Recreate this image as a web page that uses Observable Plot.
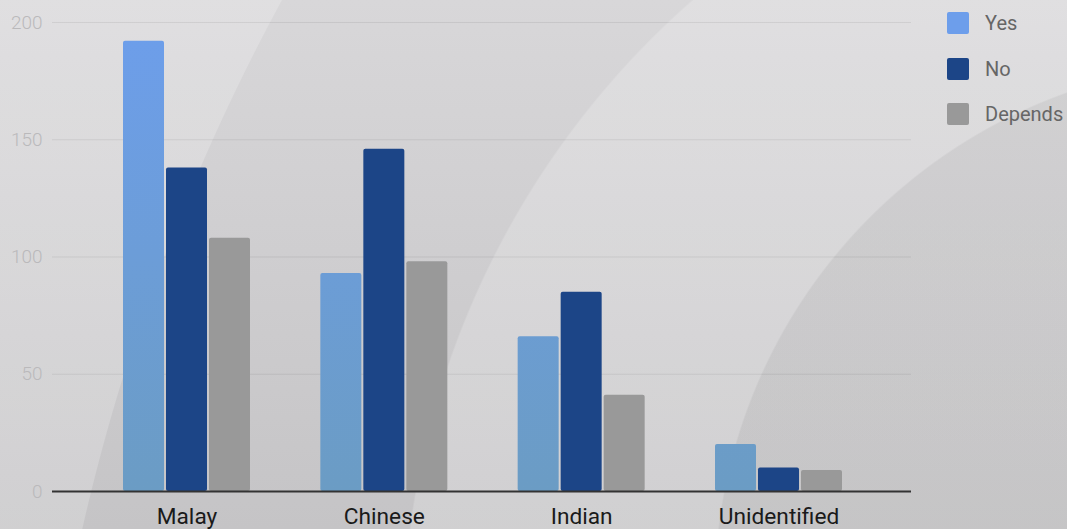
<!DOCTYPE html>
<html>
<head>
<meta charset="utf-8">
<script src="https://cdn.jsdelivr.net/npm/d3@7"></script>
<script src="https://cdn.jsdelivr.net/npm/@observablehq/plot@0.6"></script>
<style>
  html, body { margin: 0; padding: 0; }
  #wrap {
    position: relative; width: 1067px; height: 529px; overflow: hidden;
    font-family: Roboto, "Noto Sans", sans-serif;
    background:
      radial-gradient(circle 531px at 1245px 592px, rgba(0,0,0,0.055) 99.7%, rgba(0,0,0,0) 100%),
      radial-gradient(circle 850px at 1252px 639px, rgba(255,255,255,0.2) 99.8%, rgba(255,255,255,0) 100%),
      radial-gradient(circle 2071px at 2101px 989px, rgba(255,255,255,0) 99.95%, rgba(255,255,255,0.2) 100%),
      linear-gradient(#d8d7d9, #c5c4c6);
  }
  #chart { position: absolute; left: 0; top: 0; }
  #legend { position: absolute; left: 947px; top: 12px; }
  .item { display: flex; align-items: center; height: 22px; margin-bottom: 23.5px; }
  .sw { width: 22px; height: 22px; border-radius: 2px; margin-right: 16px; }
  .lbl { font-size: 20px; color: #666; line-height: 22px; }
</style>
</head>
<body>
<svg width="0" height="0" style="position:absolute">
  <defs>
    <linearGradient id="yesGrad" gradientUnits="userSpaceOnUse" x1="0" y1="22" x2="0" y2="491">
      <stop offset="0" stop-color="#6d9eeb"/>
      <stop offset="1" stop-color="#6b9cc4"/>
    </linearGradient>
  </defs>
</svg>
<div id="wrap">
  <div id="chart"></div>
  <div id="legend"></div>
</div>
<script>
const categories = ["Malay", "Chinese", "Indian", "Unidentified"];
const series = ["Yes", "No", "Depends"];
const yes = [192, 93, 66, 20];
const no = [138, 146, 85, 10];
const depends = [108, 98, 41, 9];
const yTicks = [0, 50, 100, 150, 200];

const seriesValues = [yes, no, depends];
const swatchColors = ["#6d9eeb", "#1c4587", "#999999"];
const barFills = ["url(#yesGrad)", "#1c4587", "#999999"];

const table = [];
series.forEach((s, si) => categories.forEach((c, ci) => table.push({category: c, series: s, value: seriesValues[si][ci]})));

const barWidth = 41, gap = 2;
const groupWidth = 127;
const inset = (groupWidth - barWidth) / 2;

const chart = Plot.plot({
  width: 1067,
  height: 529,
  marginLeft: 52,
  marginRight: 156,
  marginTop: 22,
  marginBottom: 38,
  style: {background: "transparent", fontFamily: "Roboto, 'Noto Sans', sans-serif", overflow: "visible"},
  x: {domain: categories, range: [52, 913], paddingInner: 0.3564, paddingOuter: 0.3598, round: false},
  y: {domain: [0, 200]},
  marks: [
    Plot.gridY(yTicks, {stroke: "#000", strokeOpacity: 0.07}),
    Plot.axisY(yTicks, {tickSize: 0, tickPadding: 10, fontSize: 19, fontWeight: 300, fill: "#bab9bb", label: null}),
    ...series.map((s, i) => Plot.barY(table.filter(d => d.series === s), {
      x: "category", y: "value", fill: barFills[i],
      dx: (i - 1) * (barWidth + gap), insetLeft: inset, insetRight: inset, rx: 2
    })),
    Plot.ruleY([0], {stroke: "#333", strokeWidth: 2}),
    Plot.axisX({tickSize: 0, tickPadding: 16, fontSize: 22.7, fill: "#1a1a1a", label: null})
  ]
});
document.getElementById("chart").appendChild(chart);

const legend = document.getElementById("legend");
series.forEach((s, i) => {
  const item = document.createElement("div");
  item.className = "item";
  item.innerHTML = `<div class="sw" style="background:${swatchColors[i]}"></div><div class="lbl">${s}</div>`;
  legend.appendChild(item);
});
</script>
</body>
</html>
